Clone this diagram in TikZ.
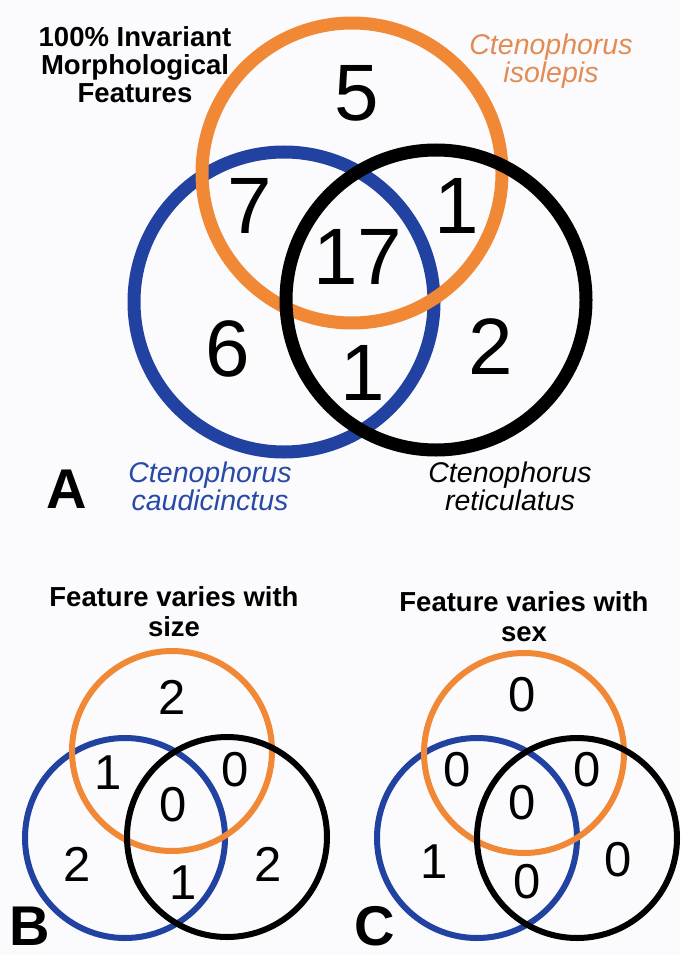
\documentclass[tikz,border=0pt]{standalone}
\usepackage{fontspec}
\setmainfont{Liberation Sans}
\definecolor{vorange}{RGB}{240,136,54}
\definecolor{vblue}{RGB}{33,66,160}
\definecolor{lorange}{RGB}{226,140,84}
\definecolor{lblue}{RGB}{40,74,166}
\definecolor{bg}{RGB}{251,251,253}
\begin{document}
\begin{tikzpicture}[x=1pt,y=-1pt,
  bigring/.style={line width=13pt},
  smallring/.style={line width=6pt},
  bignum/.style={font=\fontsize{80}{80}\selectfont, inner sep=0pt},
  smallnum/.style={font=\fontsize{49}{49}\selectfont, inner sep=0pt},
  titletext/.style={font=\bfseries\fontsize{27.5}{28}\selectfont, align=center, inner sep=0pt},
  subtitle/.style={font=\bfseries\fontsize{27.5}{30}\selectfont, align=center, inner sep=0pt},
  species/.style={font=\itshape\fontsize{28.5}{28}\selectfont, align=center, inner sep=0pt},
  panel/.style={font=\bfseries\fontsize{56}{56}\selectfont, inner sep=0pt}]
\fill[bg] (0,0) rectangle (680,955);
\useasboundingbox (0,0) rectangle (680,955);

% ---------- Panel A ----------
\draw[vblue, bigring] (284,302) circle [radius=150pt];
\draw[vorange, bigring] (352,173) circle [radius=150pt];
\draw[black, bigring] (436,300) circle [radius=150pt];

\node[bignum] (a5) at (357,93) {5};
\node[bignum] (a7) at (250,206) {7};
\node[bignum] (a1t) at (457,206) {1};
\node[bignum] (a17) at (358,257) {17};
\node[bignum] (a6) at (228,349) {6};
\node[bignum] (a1b) at (363,373) {1};
\node[bignum] (a2) at (491,347) {2};

\node[titletext] (atitle) at (135,65) {100\% Invariant\\Morphological\\Features};
\node[species, text=lorange] (liso) at (551,61) {Ctenophorus\\isolepis};
\node[species, text=lblue] (lcau) at (210,486) {Ctenophorus\\caudicinctus};
\node[species] (lret) at (510,486) {Ctenophorus\\reticulatus};
\node[panel] (pa) at (67,489) {A};

% ---------- Panel B ----------
\draw[vblue, smallring] (125,838) circle [radius=100pt];
\draw[vorange, smallring] (172,751) circle [radius=100pt];
\draw[black, smallring] (227,837) circle [radius=100pt];

\node[smallnum] (b2t) at (172,697) {2};
\node[smallnum] (b1ob) at (108,773) {1};
\node[smallnum] (b0ok) at (235,770) {0};
\node[smallnum] (b0c) at (173,805) {0};
\node[smallnum] (b2b) at (77,864) {2};
\node[smallnum] (b1bk) at (183,883) {1};
\node[smallnum] (b2k) at (268,864) {2};

\node[subtitle] (btitle) at (174,612) {Feature varies with\\size};
\node[panel] (pb) at (30,926) {B};

% ---------- Panel C ----------
\draw[vblue, smallring] (477,838) circle [radius=100pt];
\draw[vorange, smallring] (524,753) circle [radius=100pt];
\draw[black, smallring] (577,838) circle [radius=100pt];

\node[smallnum] (c0t) at (522,695) {0};
\node[smallnum] (c0ob) at (457,770) {0};
\node[smallnum] (c0ok) at (587,770) {0};
\node[smallnum] (c0c) at (522,803) {0};
\node[smallnum] (c1b) at (434,862) {1};
\node[smallnum] (c0bk) at (527,882) {0};
\node[smallnum] (c0k) at (618,860) {0};

\node[subtitle] (ctitle) at (524,617) {Feature varies with\\sex};
\node[panel] (pc) at (375,926) {C};
\end{tikzpicture}
\end{document}
